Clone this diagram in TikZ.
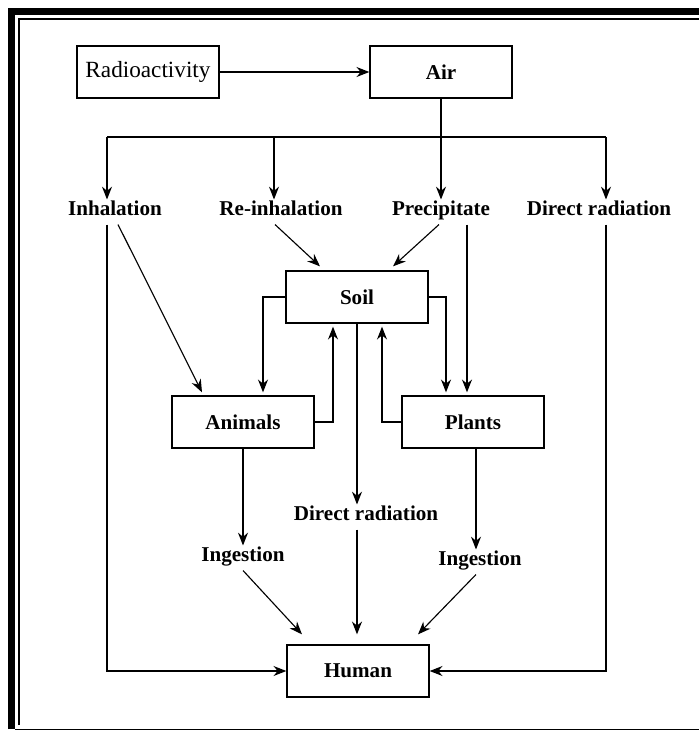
\documentclass[tikz,border=0pt]{standalone}
\usepackage{fontspec}
\setmainfont{Liberation Serif}
\usepackage{tikz}
\usetikzlibrary{positioning,arrows.meta,calc}

\begin{document}
\begin{tikzpicture}[x=0.025cm,y=-0.025cm,>={Stealth[length=3.2mm,width=2.5mm]},
  box/.style={draw,line width=1.5pt,minimum width=3.53cm,minimum height=1.28cm,inner sep=0pt,font=\bfseries\fontsize{15}{18}\selectfont},
  lab/.style={inner sep=4pt,text height=0.7em,text depth=0.2em,font=\bfseries\fontsize{15}{18}\selectfont},
  every path/.style={line width=0.8pt}]
\useasboundingbox (0,0) rectangle (699,731);
% frame
\draw[line width=0.175cm] (11.5,729) -- (11.5,11.5) -- (699,11.5);
\draw[line width=0.9pt] (19,725) -- (19,19) -- (699,19);
\draw[line width=0.9pt] (15,729.5) -- (699,729.5);
% boxes
\node[box,font=\fontsize{16.5}{19}\selectfont] (radio) at (148,72) {Radioactivity};
\node[box] (air) at (441,72) {Air};
\node[box] (soil) at (357,297) {Soil};
\node[box] (animals) at (243,422) {Animals};
\node[box] (plants) at (473,422) {Plants};
\node[box] (human) at (358,671) {Human};
% labels
\node[lab] (inh) at (115,212) {Inhalation};
\node[lab] (reinh) at (281,212) {Re-inhalation};
\node[lab] (precip) at (441,212) {Precipitate};
\node[lab] (dirtop) at (599,212) {Direct radiation};
\node[lab] (raddir) at (366,517) {Direct radiation};
\node[lab] (ingl) at (243,558) {Ingestion};
\node[lab] (ingr) at (480,562) {Ingestion};
\coordinate (bl) at (107,137);
\coordinate (bm) at (274,137);
\coordinate (br) at (606,137);
% air
\draw[->] (radio) -- (air);
\draw[->] (air) -- (precip);
\draw (bl) -- (br);
\draw[->] (bl) -- (bl |- inh.north);
\draw[->] (bm) -- (bm |- reinh.north);
\draw[->] (br) -- (br |- dirtop.north);
% to soil, animals, plants
\draw[->] ($(inh.south)+(3,0)$) -- ($(animals.north)+(-41,-3)$);
\draw[->] ($(reinh.south)+(-6,0)$) -- ($(soil.north)+(-37,-4)$);
\draw[->] ($(precip.south)+(-2,0)$) -- ($(soil.north)+(36,-4)$);
\draw[->] ($(precip.south)+(26,0)$) -- ($(plants.north)+(-6,-3)$);
\draw[->] (soil.west) -| ($(animals.north)+(20,-3)$);
\draw[->] (animals.east) -| ($(soil.south)+(-24,3)$);
\draw[->] (soil.east) -| ($(plants.north)+(-27,-3)$);
\draw[->] (plants.west) -| ($(soil.south)+(25,3)$);
% to human
\draw[->] (soil.south) -- (soil.south |- raddir.north);
\draw[->] (soil.south |- raddir.south) -- ($(soil.south |- human.north)+(0,-10)$);
\draw[->] (animals) -- (ingl);
\draw[->] ($(plants.south)+(3,0)$) -- ($(plants.south |- ingr.north)+(3,0)$);
\draw[->] (ingl.south) -- ($(human.north)+(-56,-10)$);
\draw[->] ($(ingr.south)+(-4,0)$) -- ($(human.north)+(60,-10)$);
\draw[->] (bl |- inh.south) |- (human.west);
\draw[->] (br |- dirtop.south) |- (human.east);
\end{tikzpicture}
\end{document}
